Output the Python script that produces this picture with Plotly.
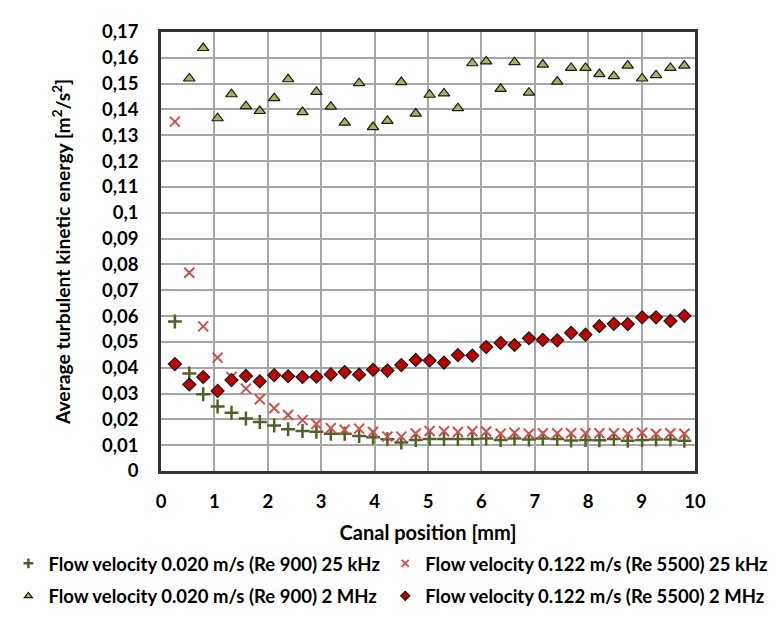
import plotly.graph_objects as go

positions_mm = [0.26, 0.53, 0.79, 1.06, 1.32, 1.59, 1.85, 2.12, 2.38, 2.65, 2.91, 3.18, 3.44,
                3.71, 3.97, 4.24, 4.50, 4.77, 5.03, 5.30, 5.56, 5.83, 6.09, 6.36, 6.62, 6.89,
                7.15, 7.42, 7.68, 7.95, 8.21, 8.48, 8.74, 9.01, 9.27, 9.54, 9.80]

tke_re900_25khz = [0.0579, 0.0378, 0.0297, 0.0250, 0.0226, 0.0203, 0.0190, 0.0176, 0.0162,
                   0.0155, 0.0152, 0.0144, 0.0144, 0.0136, 0.0131, 0.0123, 0.0110, 0.0120,
                   0.0124, 0.0124, 0.0124, 0.0124, 0.0126, 0.0120, 0.0126, 0.0122, 0.0126,
                   0.0124, 0.0118, 0.0120, 0.0119, 0.0124, 0.0117, 0.0120, 0.0122, 0.0122, 0.0117]

tke_re5500_25khz = [0.1353, 0.0768, 0.0560, 0.0439, 0.0364, 0.0319, 0.0278, 0.0243, 0.0217,
                    0.0197, 0.0182, 0.0166, 0.0160, 0.0164, 0.0151, 0.0133, 0.0133, 0.0145,
                    0.0155, 0.0154, 0.0151, 0.0154, 0.0153, 0.0144, 0.0148, 0.0144, 0.0146,
                    0.0146, 0.0146, 0.0146, 0.0146, 0.0146, 0.0144, 0.0148, 0.0144, 0.0146, 0.0144]

tke_re900_2mhz = [None, 0.1520, 0.1638, 0.1366, 0.1459, 0.1413, 0.1394, 0.1444, 0.1517,
                  0.1390, 0.1468, 0.1411, 0.1349, 0.1502, 0.1332, 0.1356, 0.1506, 0.1384,
                  0.1457, 0.1462, 0.1405, 0.1579, 0.1586, 0.1480, 0.1583, 0.1465, 0.1574,
                  0.1508, 0.1561, 0.1561, 0.1537, 0.1529, 0.1570, 0.1520, 0.1533, 0.1561, 0.1570]

tke_re5500_2mhz = [0.0414, 0.0335, 0.0364, 0.0310, 0.0352, 0.0368, 0.0347, 0.0371, 0.0367,
                   0.0364, 0.0365, 0.0374, 0.0383, 0.0373, 0.0392, 0.0389, 0.0410, 0.0430,
                   0.0428, 0.0420, 0.0449, 0.0447, 0.0480, 0.0496, 0.0488, 0.0514, 0.0508,
                   0.0506, 0.0535, 0.0528, 0.0561, 0.0570, 0.0569, 0.0595, 0.0595, 0.0581, 0.0601]

y_tick_values = [0, 0.01, 0.02, 0.03, 0.04, 0.05, 0.06, 0.07, 0.08, 0.09, 0.10, 0.11,
                 0.12, 0.13, 0.14, 0.15, 0.16, 0.17]
y_tick_labels = ["0", "0,01", "0,02", "0,03", "0,04", "0,05", "0,06", "0,07", "0,08", "0,09",
                 "0,1", "0,11", "0,12", "0,13", "0,14", "0,15", "0,16", "0,17"]
x_tick_values = [0, 1, 2, 3, 4, 5, 6, 7, 8, 9, 10]

series_names = ["Flow velocity 0.020 m/s (Re 900) 25 kHz",
                "Flow velocity 0.122 m/s (Re 5500) 25 kHz",
                "Flow velocity 0.020 m/s (Re 900) 2 MHz",
                "Flow velocity 0.122 m/s (Re 5500) 2 MHz"]

FONT = "Lato"
tick_font = dict(family=FONT, size=18.5, color="#000000", weight="bold")
xtitle_font = dict(family=FONT, size=20, color="#000000", weight="bold")
ytitle_font = dict(family=FONT, size=19.3, color="#000000", weight="bold")
legend_font = dict(family=FONT, size=18.5, color="#000000", weight="bold")

styles = [
    dict(symbol="cross-thin", color="#4F6228", line=dict(color="#4F6228", width=2.5)),
    dict(symbol="x-thin", color="#D0504D", line=dict(color="#D0504D", width=2)),
    dict(symbol="triangle-up", color="#9BBB59", line=dict(color="#1a1a1a", width=1.2)),
    dict(symbol="diamond", color="#C00000", line=dict(color="#1a1a1a", width=1.2)),
]
series_values = [tke_re900_25khz, tke_re5500_25khz, tke_re900_2mhz, tke_re5500_2mhz]
legend_ids = ["legend", "legend2", "legend3", "legend4"]

fig = go.Figure()
for name, vals, st in zip(series_names, series_values, styles):
    fig.add_trace(go.Scatter(x=positions_mm, y=vals, mode="markers", name=name,
                             showlegend=False, marker=dict(size=10, **st)))
# legend-only entries (smaller symbols, as in the reference legend)
for name, st, lid in zip(series_names, styles, legend_ids):
    fig.add_trace(go.Scatter(x=[None], y=[None], mode="markers", name=name, legend=lid,
                             showlegend=True, marker=dict(size=7, **st)))

def leg(x, y):
    return dict(orientation="h", x=x, xanchor="left", y=y, yanchor="middle",
                font=legend_font, bgcolor="rgba(0,0,0,0)", borderwidth=0,
                itemsizing="trace", indentation=-12)

fig.update_layout(
    width=777, height=619,
    margin=dict(l=144, r=86, t=17, b=145),
    paper_bgcolor="white", plot_bgcolor="white",
    font=dict(family=FONT, size=18.5, color="#000000", weight="bold"),
    xaxis=dict(range=[0, 10], tickvals=x_tick_values, showgrid=True, gridcolor="#A6A6A6",
               gridwidth=1.5, zeroline=False, showline=True, linecolor="#333333", linewidth=2.5,
               mirror=True, ticks="", tickfont=tick_font, ticklabelstandoff=12,
               title=dict(text="Canal position [mm]", font=xtitle_font, standoff=16)),
    yaxis=dict(range=[0, 0.17], tickvals=y_tick_values, ticktext=y_tick_labels, showgrid=True,
               gridcolor="#A6A6A6", gridwidth=1.5, zeroline=False, showline=True,
               linecolor="#333333", linewidth=2.5, mirror=True, ticks="", tickfont=tick_font,
               ticklabelstandoff=16,
               title=dict(text="Average turbulent kinetic energy [m<sup>2</sup>/s<sup>2</sup>]",
                          font=ytitle_font, standoff=27)),
    legend=leg(-0.2633, -0.2115),
    legend2=leg(0.4424, -0.2115),
    legend3=leg(-0.2633, -0.2855),
    legend4=leg(0.4424, -0.2855),
)

fig.write_html("out.html")
